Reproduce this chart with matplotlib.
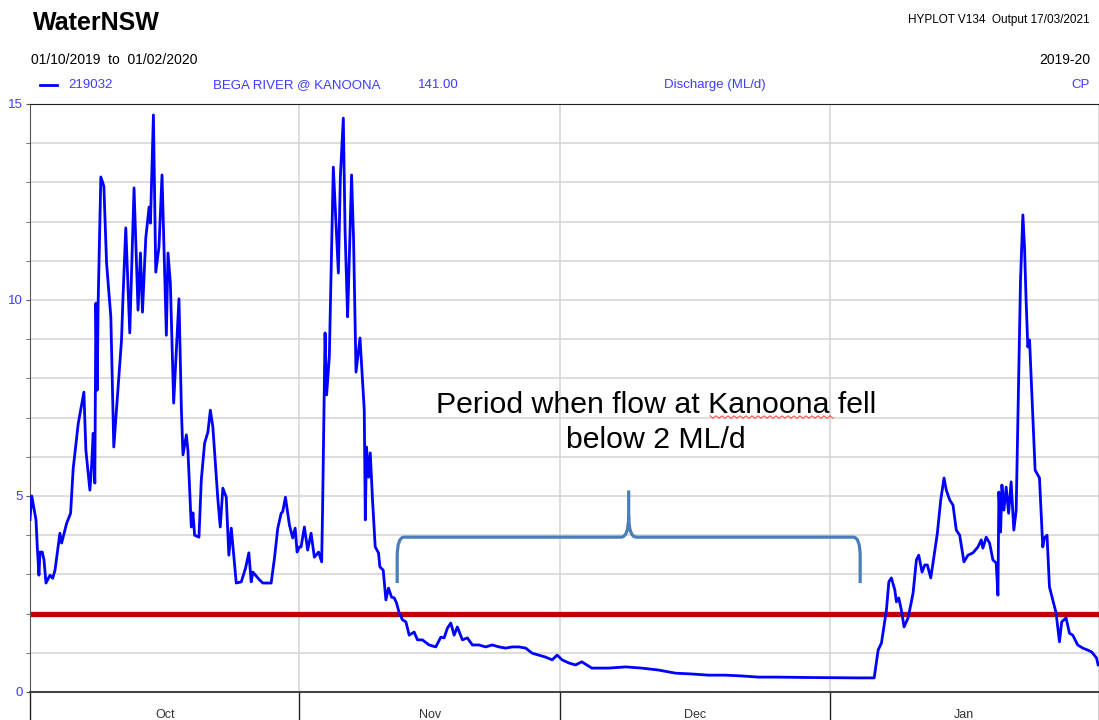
"""WaterNSW HYPLOT style discharge chart: Bega River @ Kanoona, Oct 2019 - Jan 2020."""
import numpy as np
import matplotlib
matplotlib.use("Agg")
import matplotlib.pyplot as plt
from matplotlib.path import Path
from matplotlib.patches import PathPatch

plt.rcParams["font.family"] = ["Liberation Sans", "DejaVu Sans"]

# ---- data: day offset from 01/10/2019, discharge ML/d ----
DAY = [0.0, 0.2, 0.69, 0.84, 1.03, 1.15, 1.41, 1.61, 1.84, 2.30, 2.61, 2.87, 3.44, 3.64,
       4.21, 4.67, 4.97, 5.55, 6.20, 6.43, 6.69, 6.89, 7.08, 7.27, 7.46, 7.58, 7.73, 7.84,
       8.15, 8.50, 8.81, 9.30, 9.64, 9.95, 10.53, 10.71, 11.02, 11.48, 11.97, 12.43, 12.71,
       12.94, 13.32, 13.70, 13.86, 14.20, 14.47, 14.84, 15.19, 15.69, 15.88, 16.15, 16.53,
       17.14, 17.42, 17.60, 17.99, 18.17, 18.56, 18.75, 18.94, 19.44, 19.71, 20.09, 20.47,
       20.75, 21.04, 21.62, 21.89, 22.19, 22.58, 22.88, 23.16, 23.73, 24.31, 24.80, 25.18,
       25.45, 25.64, 26.41, 26.79, 27.75, 28.13, 28.51, 28.90, 29.08, 29.39, 29.85, 30.23,
       30.51, 30.73, 31.00, 31.19, 31.57, 31.95, 32.34, 32.72, 33.21, 33.56, 33.67, 33.95,
       34.13, 34.44, 34.90, 35.48, 35.71, 36.05, 36.25, 36.54, 36.66, 37.00, 37.23, 37.51,
       37.97, 38.46, 38.58, 38.72, 38.96, 39.15, 39.41, 39.72, 40.10, 40.26, 40.64, 40.95,
       41.25, 41.60, 41.91, 42.17, 42.48, 42.86, 43.25, 43.63, 44.20, 44.58, 45.15, 45.92,
       46.69, 47.27, 47.65, 48.03, 48.42, 48.80, 49.17, 49.75, 50.32, 50.90, 51.66, 52.43,
       53.19, 53.96, 54.73, 55.49, 56.26, 57.03, 57.78, 58.55, 59.32, 60.08, 60.65, 61.23,
       62.00, 62.77, 63.49, 64.64, 66.59, 68.54, 70.38, 72.33, 74.28, 76.12, 78.07, 80.02,
       81.86, 83.81, 85.76, 89.55, 95.29, 97.13, 97.59, 97.97, 98.54, 98.82, 99.11, 99.51,
       99.69, 99.96, 100.26, 100.57, 101.03, 101.41, 101.61, 101.99, 102.26, 102.64, 102.95,
       103.25, 103.64, 103.90, 104.40, 104.79, 105.17, 105.43, 105.82, 106.20, 106.58,
       106.97, 107.46, 107.92, 108.50, 109.07, 109.45, 109.64, 110.02, 110.41, 110.79,
       111.17, 111.37, 111.48, 111.68, 111.83, 112.06, 112.32, 112.60, 112.89, 113.20,
       113.47, 113.97, 114.24, 114.43, 114.61, 114.81, 115.01, 115.65, 116.15, 116.53,
       116.72, 117.02, 117.30, 117.68, 118.06, 118.45, 118.71, 119.21, 119.60, 119.98,
       120.55, 121.13, 121.70, 122.16, 122.71, 122.90]
FLOW = [4.4, 5.0, 4.39, 3.7, 2.98, 3.57, 3.57, 3.37, 2.78, 2.98, 2.9, 3.1, 4.05, 3.8,
        4.3, 4.56, 5.7, 6.85, 7.65, 6.17, 5.58, 5.15, 5.74, 6.6, 5.33, 9.92, 7.7, 9.92,
        13.14, 12.9, 10.94, 9.57, 6.25, 7.2, 8.98, 10.13, 11.84, 9.16, 12.86, 9.74, 11.2,
        9.69, 11.58, 12.37, 11.96, 14.72, 10.71, 11.35, 13.19, 9.1, 11.2, 10.43, 7.37,
        10.03, 7.2, 6.05, 6.56, 6.17, 4.21, 4.57, 4.0, 3.95, 5.41, 6.35, 6.63,
        7.19, 6.76, 4.9, 4.21, 5.2, 4.97, 3.49, 4.18, 2.78, 2.81, 3.16, 3.55,
        2.81, 3.06, 2.86, 2.78, 2.78, 3.42, 4.18, 4.56, 4.6, 4.97, 4.26, 3.93,
        4.18, 3.57, 3.7, 3.7, 4.21, 3.62, 4.05, 3.44, 3.57, 3.32, 4.72, 9.16,
        7.58, 8.55, 13.39, 10.69, 13.14, 14.64, 11.79, 9.57, 10.43, 13.19, 11.53, 8.16,
        9.03, 7.19, 4.39, 6.25, 5.48, 6.1, 4.9, 3.7, 3.55, 3.19, 3.11, 2.35,
        2.65, 2.42, 2.4, 2.27, 2.02, 1.84, 1.79, 1.45, 1.53, 1.33, 1.33, 1.2,
        1.15, 1.4, 1.38, 1.63, 1.76, 1.45, 1.66, 1.33, 1.38, 1.2, 1.2, 1.15,
        1.2, 1.15, 1.12, 1.15, 1.15, 1.12, 0.99, 0.94, 0.89, 0.82, 0.94, 0.82,
        0.74, 0.69, 0.77, 0.61, 0.61, 0.64, 0.61, 0.56, 0.48, 0.46, 0.43, 0.43,
        0.41, 0.38, 0.38, 0.37, 0.36, 0.36, 1.07, 1.25, 2.09, 2.81, 2.91, 2.6,
        2.3, 2.4, 2.09, 1.66, 1.89, 2.3, 2.53, 3.37, 3.49, 3.06, 3.24,
        3.24, 2.91, 3.29, 4.05, 4.9, 5.46, 5.15, 4.9, 4.77, 4.13,
        4.0, 3.32, 3.49, 3.55, 3.7, 3.88, 3.67, 3.95, 3.8, 3.37,
        3.29, 2.47, 5.1, 4.08, 5.28, 4.64, 5.23, 4.56, 5.36, 4.13,
        4.64, 10.51, 12.17, 11.35, 10.0, 8.8, 8.98, 5.66, 5.46, 3.7,
        3.93, 4.0, 2.68, 2.35, 2.02, 1.28, 1.79, 1.89, 1.5, 1.45,
        1.2, 1.12, 1.07, 1.02, 0.87, 0.69]

MONTHS = ["Oct", "Nov", "Dec", "Jan"]
MONTH_START = [0, 31, 61, 92, 123]
THRESHOLD = 2.0
LOW_FLOW_START, LOW_FLOW_END = 42.25, 95.52   # bracketed period (days)

BLUE_TXT = "#3c3cff"

fig = plt.figure(figsize=(10.99, 7.2), dpi=100)
ax = fig.add_axes([30 / 1099, 1 - 692 / 720, 1 - 30 / 1099, (692 - 104) / 720])

ax.set_xlim(0, 122.73)
ax.set_ylim(0, 15)

# grid
ax.set_yticks([0, 5, 10, 15])
ax.set_yticks(range(16), minor=True)
ax.set_yticklabels(["0", "5", "10", "15"], color=BLUE_TXT, fontsize=9.5)
ax.set_xticks(MONTH_START)
ax.set_xticklabels([])
ax.set_xticks([(a + b) / 2 for a, b in zip(MONTH_START[:-1], MONTH_START[1:])], minor=True)
ax.set_xticklabels(MONTHS, minor=True, fontsize=9, color="#333333")
ax.grid(True, which="both", axis="y", color="#d3d3d3", lw=1.1, zorder=0)
ax.grid(True, which="major", axis="x", color="#d3d3d3", lw=1.1, zorder=0)
ax.tick_params(axis="y", which="both", direction="out", length=3, color="#555555", pad=2)
ax.tick_params(axis="x", which="major", direction="out", length=20, color="#222222", width=1.0)
ax.tick_params(axis="x", which="minor", length=0, pad=12)
ax.spines["right"].set_visible(False)
ax.spines["left"].set_color("#555555")
ax.spines["bottom"].set_color("#333333")
ax.spines["top"].set_color("#222222")
ax.spines["bottom"].set_linewidth(1.3)

# threshold line and flow series
ax.axhline(THRESHOLD, color="#c00000", lw=3.8, zorder=2)
ax.plot(DAY, FLOW, color="#0000ff", lw=2.0, zorder=3)

# curly brace over low-flow period
xL, xR = LOW_FLOW_START, LOW_FLOW_END
xm = (xL + xR) / 2
yb, yh, yt = 2.78, 3.95, 5.14
rx, ry = 0.8, 0.5
tx, ty = 0.9, 0.55
verts = [(xL, yb), (xL, yh - ry), (xL, yh), (xL + rx, yh), (xm - tx, yh),
         (xm, yh), (xm, yh + ty), (xm, yt),
         (xm, yh + ty), (xm, yh), (xm + tx, yh), (xR - rx, yh),
         (xR, yh), (xR, yh - ry), (xR, yb)]
codes = [Path.MOVETO, Path.LINETO, Path.CURVE3, Path.CURVE3, Path.LINETO,
         Path.CURVE3, Path.CURVE3, Path.LINETO,
         Path.MOVETO, Path.CURVE3, Path.CURVE3, Path.LINETO,
         Path.CURVE3, Path.CURVE3, Path.LINETO]
ax.add_patch(PathPatch(Path(verts, codes), fill=False, ec="#4a7ebb", lw=2.3, zorder=4,
                       capstyle="butt", joinstyle="round"))

ax.text(72.04, 6.87, "Period when flow at Kanoona fell\nbelow 2 ML/d", ha="center", va="center",
        fontsize=21.8, color="black", linespacing=1.3, zorder=5)

# spell-check squiggle under "Kanoona"
sq_x = np.arange(710, 834, 3.0)
sq_y = 720 - 417 + np.where(np.arange(len(sq_x)) % 2 == 0, 1.2, -1.2)
fig.add_artist(plt.Line2D(sq_x / 1099, sq_y / 720, color="#ff4040", lw=0.7))

# header
fig.text(33 / 1099, 1 - 23 / 720, "WaterNSW", fontsize=18, fontweight="bold", va="center")
fig.text(1090 / 1099, 1 - 20 / 720, "HYPLOT V134  Output 17/03/2021", fontsize=8.5,
         ha="right", va="center")
fig.text(31 / 1099, 1 - 60 / 720, "01/10/2019  to  01/02/2020", fontsize=10, va="center")
fig.text(1090 / 1099, 1 - 60 / 720, "2019-20", fontsize=10, ha="right", va="center")
fig.add_artist(plt.Line2D([40 / 1099, 57 / 1099], [1 - 85 / 720] * 2, color="#0000ff", lw=2))
legend_row = [(68, "219032"), (213, "BEGA RIVER @ KANOONA"), (418, "141.00"),
              (664, "Discharge (ML/d)")]
for px, txt in legend_row:
    fig.text(px / 1099, 1 - 85 / 720, txt, fontsize=9.5, color=BLUE_TXT, va="center")
fig.text(1090 / 1099, 1 - 85 / 720, "CP", fontsize=9.5, color=BLUE_TXT, ha="right", va="center")

fig.savefig("out.png", dpi=100)
